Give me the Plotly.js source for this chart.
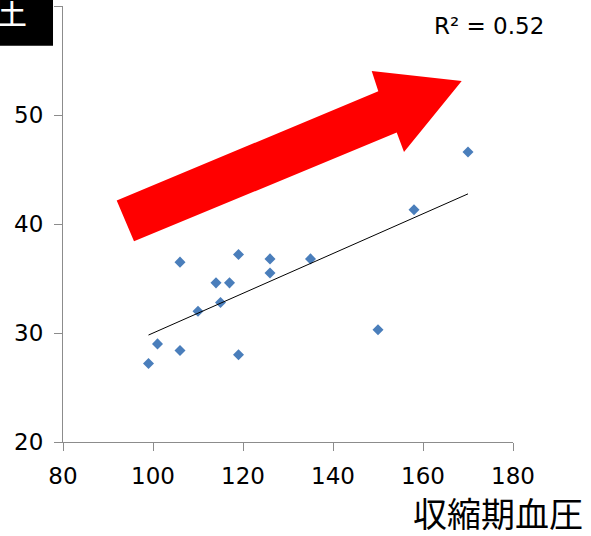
<!DOCTYPE html>
<html>
<head>
<meta charset="utf-8">
<script src="https://cdn.plot.ly/plotly-3.0.1.min.js"></script>
<style>html,body{margin:0;padding:0;background:#fff;}#chart{width:591px;height:536px;}</style>
</head>
<body>
<div id="chart"></div>
<script>
// Data
const systolic  = [99, 101, 106, 106, 110, 114, 115, 117, 119, 119, 126, 126, 135, 150, 158, 170];
const diastolic = [27.2, 29.0, 36.5, 28.4, 32.0, 34.6, 32.8, 34.6, 37.2, 28.0, 36.8, 35.5, 36.8, 30.3, 41.3, 46.6];
const xTicks = [80, 100, 120, 140, 160, 180];
const yTicks = [20, 30, 40, 50, 60];
const yTickText = ['20', '30', '40', '50', ''];
const xTitle = '収縮期血圧';
const yTitle = '拡張期血圧';

// Linear least-squares trend line (as a spreadsheet trendline does)
const n = systolic.length;
const mx = systolic.reduce((a, b) => a + b, 0) / n;
const my = diastolic.reduce((a, b) => a + b, 0) / n;
let sxx = 0, sxy = 0, syy = 0;
for (let i = 0; i < n; i++) {
  sxx += (systolic[i] - mx) ** 2;
  sxy += (systolic[i] - mx) * (diastolic[i] - my);
  syy += (diastolic[i] - my) ** 2;
}
const slope = sxy / sxx;
const intercept = my - slope * mx;
const r2 = (sxy * sxy) / (sxx * syy);
const xMin = Math.min(...systolic), xMax = Math.max(...systolic);
const trendX = [xMin, xMax];
const trendY = trendX.map(v => intercept + slope * v);

const font = 'DejaVu Sans, Verdana, sans-serif';
const cjk = '"Noto Sans CJK JP", sans-serif';

const traces = [
  {
    x: systolic, y: diastolic, type: 'scatter', mode: 'markers',
    marker: {symbol: 'diamond', size: 8.5, color: '#4a7ebb'},
    hoverinfo: 'skip', showlegend: false
  },
  {
    x: trendX, y: trendY, type: 'scatter', mode: 'lines',
    line: {color: '#000000', width: 1},
    hoverinfo: 'skip', showlegend: false
  }
];

const axisCommon = {
  showgrid: false, zeroline: false, showline: true,
  linecolor: '#8c8c8c', linewidth: 1,
  ticks: 'outside', ticklen: 8, tickcolor: '#8c8c8c', tickwidth: 1,
  tickfont: {family: font, size: 23, color: '#000'},
  fixedrange: true
};

const layout = {
  width: 591, height: 536,
  margin: {l: 63, r: 78, t: 6, b: 94},
  paper_bgcolor: '#fff', plot_bgcolor: '#fff',
  showlegend: false,
  xaxis: Object.assign({}, axisCommon, {
    range: [80, 180], tickmode: 'array', tickvals: xTicks,
    ticktext: xTicks.map(String), ticklabelstandoff: 5
  }),
  yaxis: Object.assign({}, axisCommon, {
    range: [20, 60], tickmode: 'array', tickvals: yTicks,
    ticktext: yTickText, ticklabelstandoff: 6
  }),
  shapes: [
    {
      type: 'path', xref: 'x', yref: 'y', layer: 'above',
      path: 'M 95.78 38.41 L 91.93 42.15 L 150.07 52.19 L 148.6 54.04 L 168.6 53.12 L 155.78 46.61 L 154.16 48.39 Z',
      fillcolor: '#ff0000', line: {width: 0}
    },
    {
      type: 'rect', xref: 'paper', yref: 'paper', layer: 'above',
      x0: -0.162, x1: -0.0222, y0: 0.909, y1: 1.04,
      fillcolor: '#000000', line: {width: 0}
    }
  ],
  annotations: [
    {
      text: 'R² = ' + r2.toFixed(2), xref: 'paper', yref: 'paper',
      x: 0.9456, y: 0.954, xanchor: 'center', yanchor: 'middle',
      showarrow: false, font: {family: font, size: 23, color: '#000'}
    },
    {
      text: xTitle, xref: 'paper', yref: 'paper',
      x: 1.16, y: -0.162, xanchor: 'right', yanchor: 'middle',
      showarrow: false, font: {family: cjk, size: 34, color: '#000'}
    },
    {
      text: yTitle, xref: 'paper', yref: 'paper',
      x: -0.0756, y: 0.995, xanchor: 'right', yanchor: 'middle',
      showarrow: false, font: {family: cjk, size: 35, color: '#fff'}
    }
  ]
};

Plotly.newPlot('chart', traces, layout, {staticPlot: true, displayModeBar: false});
</script>
</body>
</html>
